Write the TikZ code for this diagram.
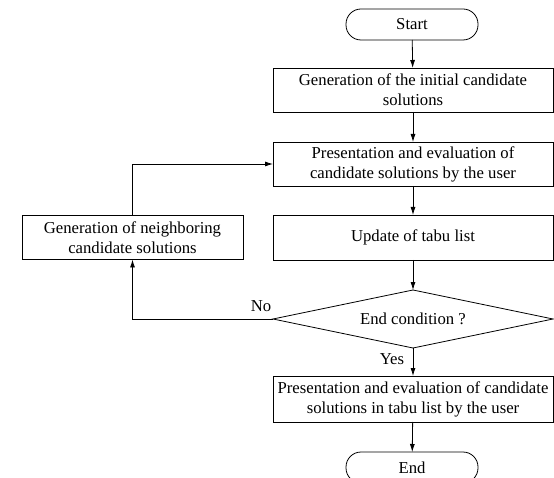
\documentclass[tikz,border=0pt]{standalone}
\usepackage{fontspec}
\setmainfont{Liberation Serif}
\usetikzlibrary{arrows.meta,shapes.geometric}
\begin{document}
\begin{tikzpicture}[x=1pt,y=-1pt,
  font=\fontsize{16.7}{20}\selectfont,
  every node/.style={inner sep=0pt,outer sep=0pt},
  procbox/.style={draw=black,line width=0.8pt,rectangle,align=center,minimum width=280pt},
  termbox/.style={draw=black,line width=0.8pt,rectangle,rounded corners=15pt,minimum width=132pt,minimum height=31pt},
  decbox/.style={draw=black,line width=0.8pt,diamond,aspect=5,minimum width=280pt,minimum height=58pt},
  conn/.style={draw=black,line width=0.8pt,-{Latex[length=8pt,width=5pt]}},
  lbl/.style={font=\fontsize{16.7}{20}\selectfont}]
\useasboundingbox (0,0) rectangle (554,478);
\node[termbox] (start) at (412,24.5) {Start};
\node[procbox,minimum height=44pt] (b1) at (413,90) {Generation of the initial candidate\\solutions};
\node[procbox,minimum height=44pt] (b2) at (413,164) {Presentation and evaluation of\\candidate solutions by the user};
\node[procbox,minimum height=45pt] (b3) at (413,237.5) {Update of tabu list};
\node[procbox,minimum width=221pt,minimum height=44pt] (nb) at (132.5,237.5) {Generation of neighboring\\candidate solutions};
\node[decbox] (dec) at (413,319) {End condition ?};
\node[procbox,minimum height=46pt] (b4) at (413,399) {Presentation and evaluation of candidate\\solutions in tabu list by the user};
\node[termbox] (end) at (412,467.5) {End};
\node[lbl] (no) at (261,306) {No};
\node[lbl] (yes) at (392,359) {Yes};
\draw[conn] (start) -- (b1);
\draw[conn] (b1) -- (b2);
\draw[conn] (b2) -- (b3);
\draw[conn] (b3) -- (dec);
\draw[conn] (dec) -- (b4);
\draw[conn] (b4) -- (end);
\draw[conn] (dec.west) -| (nb.south);
\draw[conn] (nb.north) |- (b2.west);
\end{tikzpicture}
\end{document}
